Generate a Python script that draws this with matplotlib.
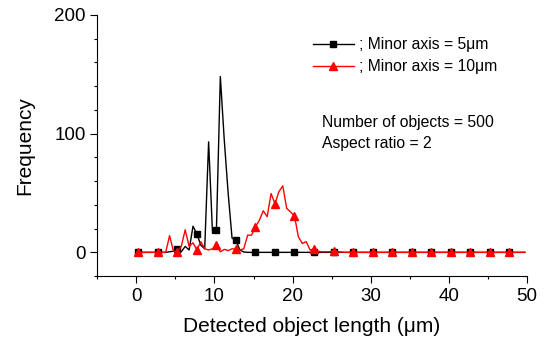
import numpy as np
import matplotlib
matplotlib.use("Agg")
import matplotlib.pyplot as plt
from matplotlib.ticker import MultipleLocator

plt.rcParams['font.family'] = ['Liberation Sans', 'DejaVu Sans']

# bin centres (um)
lengths = [0.25 + 0.5 * i for i in range(100)]

# Minor axis = 5 um
freq_5 = [0, 0, 0, 0, 0, 0, 0, 0, 0.5, 1,
          2.5, 0.5, 5, 2, 22, 15.5, 6, 3, 93, 16,
          19, 148, 95, 50, 12, 10, 2, 0.3, 0, 0] + [0] * 70

# Minor axis = 10 um
freq_10 = [0, 0, 0, 0, 0, 0, 0, 0, 14, 1,
           0.5, 5, 19, 5, 8, 2, 9, 3, 2, 3,
           6, 0.5, 2.5, 1.5, 3, 2.5, 2, 3, 14.5, 14.5,
           21.5, 27, 35, 30, 49.5, 41, 51, 56, 37, 34,
           30.5, 13, 7.5, 9, 2, 2.5, 1, 0.5, 0.5, 0.5,
           1.3, 0.5, 0.3, 0, 0, 0, 0, 0, 0, 0] + [0] * 40

labels = ["; Minor axis = 5\u03bcm", "; Minor axis = 10\u03bcm"]
annot = "Number of objects = 500\nAspect ratio = 2"
xlabel = "Detected object length (\u03bcm)"
ylabel = "Frequency"

fig = plt.figure(figsize=(5.47, 3.43), dpi=100)
ax = fig.add_axes([0.178, 0.195, 0.785, 0.762])

ax.plot(lengths, freq_5, color='black', lw=1.0, marker='s', markersize=4.5,
        markevery=5, label=labels[0])
ax.plot(lengths, freq_10, color='red', lw=1.0, marker='^', markersize=5.5,
        markevery=5, label=labels[1])

ax.set_xlim(-5, 50)
ax.set_ylim(-20, 200)
ax.xaxis.set_major_locator(MultipleLocator(10))
ax.xaxis.set_minor_locator(MultipleLocator(5))
ax.yaxis.set_major_locator(MultipleLocator(100))
ax.yaxis.set_minor_locator(MultipleLocator(20))
ax.tick_params(which='major', direction='out', length=5, width=0.8, labelsize=13.5)
ax.tick_params(which='minor', direction='out', length=2.5, width=0.8)
for s in ['top', 'right']:
    ax.spines[s].set_visible(False)

ax.set_xlabel(xlabel, fontsize=15, labelpad=9)
ax.set_ylabel(ylabel, fontsize=15, labelpad=14)

ax.legend(loc='upper left', bbox_to_anchor=(313 / 547, 1 - 37 / 343),
          bbox_transform=fig.transFigure, frameon=False, fontsize=11.3,
          handlelength=2.6, handletextpad=0.35, borderaxespad=0, borderpad=0,
          labelspacing=0.45)

fig.text(322 / 547, 1 - 133 / 343, annot, fontsize=11.3, va='center',
         ha='left', linespacing=1.5)

fig.savefig('out.png', dpi=100)
